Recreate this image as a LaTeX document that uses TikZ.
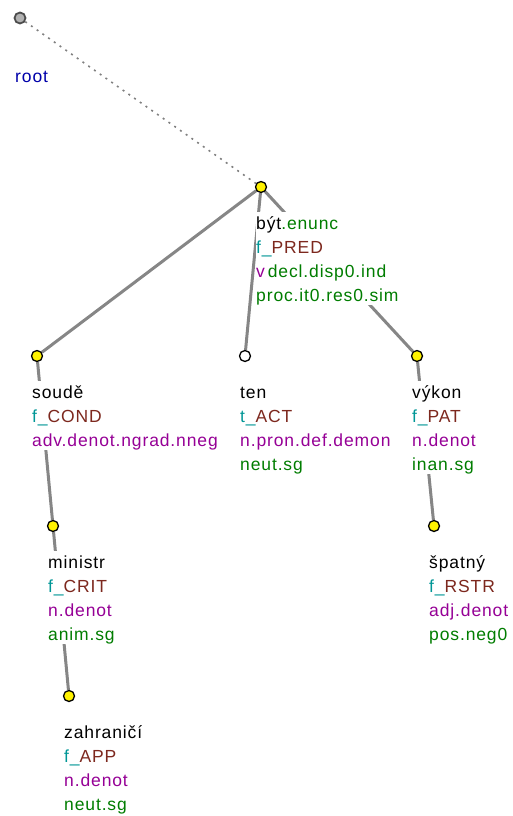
\documentclass[tikz,border=0pt]{standalone}
\usepackage{fontspec}
\setmainfont[LetterSpace=5]{Liberation Sans}
\usepackage{xcolor}
\usepackage{tikz}
\usetikzlibrary{positioning, backgrounds}
\definecolor{lemmacol}{RGB}{0,0,0}
\definecolor{funccol}{RGB}{0,150,150}
\definecolor{functorcol}{RGB}{125,40,30}
\definecolor{semposcol}{RGB}{150,0,150}
\definecolor{grammcol}{RGB}{0,125,0}
\definecolor{rootcol}{RGB}{0,0,170}
\tikzset{
  tnode/.style={
    circle,
    draw=black,
    fill=yellow,
    minimum size=11pt,
    inner sep=0pt,
    line width=1.3pt
  },
  hidnode/.style={
    tnode,
    fill=white
  },
  rootnode/.style={
    tnode,
    fill=gray!60,
    draw=black!70,
    line width=1.8pt
  },
  tlabel/.style={
    align=left,
    inner sep=0pt,
    fill=white,
    font=\fontsize{17.5}{24}\selectfont
  },
  edge/.style={
    line width=3pt,
    gray!95
  },
  rootedge/.style={
    line width=1.6pt,
    gray,
    dash pattern=on 2pt off 5pt
  }
}
\newcommand{\fn}[2]{\textcolor{funccol}{#1\_}\textcolor{functorcol}{#2}}

\begin{document}
\begin{tikzpicture}[x=1pt, y=-1pt]
  \useasboundingbox (0,0) rectangle (512,816);

  % Tree nodes
  \node (root) [rootnode] at (20,18) {};
  \node (byt) [tnode] at (261,187) {};
  \node (soude) [tnode] at (37,356) {};
  \node (ten) [hidnode] at (245,356) {};
  \node (vykon) [tnode] at (417,356) {};
  \node (ministr) [tnode] at (53,526) {};
  \node (spatny) [tnode] at (434,526) {};
  \node (zahranici) [tnode] at (69,696) {};

  % Labels
  \node (rootl) [tlabel, below right=47pt and -5pt of root.center] {\strut\textcolor{rootcol}{root}};
  \node (bytl) [tlabel, below right=25pt and -5pt of byt.center] {\strut být\textcolor{grammcol}{.enunc}\\
    \fn{f}{PRED}\\
    \textcolor{semposcol}{v}\textcolor{grammcol}{\,decl.disp0.ind}\\
    \textcolor{grammcol}{proc.it0.res0.sim}};
  \node (soudel) [tlabel, below right=25pt and -5pt of soude.center] {\strut soudě\\
    \fn{f}{COND}\\
    \textcolor{semposcol}{adv.denot.ngrad.nneg}};
  \node (tenl) [tlabel, below right=25pt and -5pt of ten.center] {\strut ten\\
    \fn{t}{ACT}\\
    \textcolor{semposcol}{n.pron.def.demon}\\
    \textcolor{grammcol}{neut.sg}};
  \node (vykonl) [tlabel, below right=25pt and -5pt of vykon.center] {\strut výkon\\
    \fn{f}{PAT}\\
    \textcolor{semposcol}{n.denot}\\
    \textcolor{grammcol}{inan.sg}};
  \node (ministrl) [tlabel, below right=25pt and -5pt of ministr.center] {\strut ministr\\
    \fn{f}{CRIT}\\
    \textcolor{semposcol}{n.denot}\\
    \textcolor{grammcol}{anim.sg}};
  \node (spatnyl) [tlabel, below right=25pt and -5pt of spatny.center] {\strut špatný\\
    \fn{f}{RSTR}\\
    \textcolor{semposcol}{adj.denot}\\
    \textcolor{grammcol}{pos.neg0}};
  \node (zahranicil) [tlabel, below right=25pt and -5pt of zahranici.center] {\strut zahraničí\\
    \fn{f}{APP}\\
    \textcolor{semposcol}{n.denot}\\
    \textcolor{grammcol}{neut.sg}};

  % Edges
  \begin{scope}[on background layer]
    \draw[rootedge] (root) -- (byt);
    \draw[edge] (byt) -- (soude);
    \draw[edge] (byt) -- (ten);
    \draw[edge] (byt) -- (vykon);
    \draw[edge] (soude) -- (ministr);
    \draw[edge] (ministr) -- (zahranici);
    \draw[edge] (vykon) -- (spatny);
  \end{scope}

\end{tikzpicture}
\end{document}
